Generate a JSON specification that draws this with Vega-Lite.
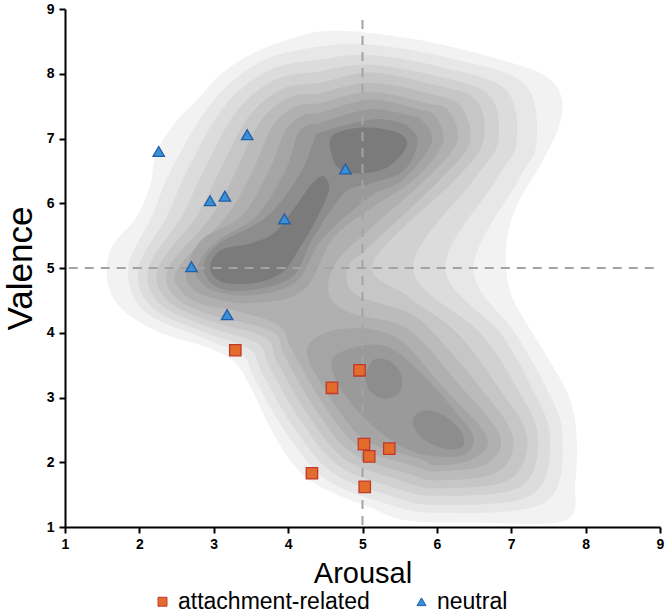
{
"$schema": "https://vega.github.io/schema/vega-lite/v6.json",
"width": 595, "height": 518,
"autosize": "none",
"padding": {"left": 65, "top": 9, "right": 9, "bottom": 89},
"background": "white",
"config": {"view": {"stroke": null}, "font": "Liberation Sans"},
"datasets": {
"contours": [
{"l":1,"p":"01","o":1,"x":4.5,"y":8.66},{"l":1,"p":"01","o":2,"x":5.1,"y":8.63},{"l":1,"p":"01","o":3,"x":5.95,"y":8.48},{"l":1,"p":"01","o":4,"x":6.85,"y":8.22},{"l":1,"p":"01","o":5,"x":7.45,"y":7.97},{"l":1,"p":"01","o":6,"x":7.68,"y":7.62},{"l":1,"p":"01","o":7,"x":7.63,"y":7.15},{"l":1,"p":"01","o":8,"x":7.38,"y":6.57},{"l":1,"p":"01","o":9,"x":7.05,"y":5.9},{"l":1,"p":"01","o":10,"x":6.93,"y":5.3},{"l":1,"p":"01","o":11,"x":6.97,"y":4.7},{"l":1,"p":"01","o":12,"x":7.15,"y":4.25},{"l":1,"p":"01","o":13,"x":7.5,"y":3.6},{"l":1,"p":"01","o":14,"x":7.78,"y":3.0},{"l":1,"p":"01","o":15,"x":7.88,"y":2.4},{"l":1,"p":"01","o":16,"x":7.86,"y":1.7},{"l":1,"p":"01","o":17,"x":7.72,"y":1.1},{"l":1,"p":"01","o":18,"x":6.5,"y":1.07},{"l":1,"p":"01","o":19,"x":5.6,"y":1.1},{"l":1,"p":"01","o":20,"x":5.1,"y":1.3},{"l":1,"p":"01","o":21,"x":4.4,"y":1.64},{"l":1,"p":"01","o":22,"x":4.05,"y":2.0},{"l":1,"p":"01","o":23,"x":3.75,"y":2.55},{"l":1,"p":"01","o":24,"x":3.5,"y":3.15},{"l":1,"p":"01","o":25,"x":3.28,"y":3.55},{"l":1,"p":"01","o":26,"x":2.9,"y":3.78},{"l":1,"p":"01","o":27,"x":2.4,"y":3.95},{"l":1,"p":"01","o":28,"x":1.95,"y":4.2},{"l":1,"p":"01","o":29,"x":1.64,"y":4.55},{"l":1,"p":"01","o":30,"x":1.56,"y":5.0},{"l":1,"p":"01","o":31,"x":1.66,"y":5.38},{"l":1,"p":"01","o":32,"x":1.97,"y":5.8},{"l":1,"p":"01","o":33,"x":2.15,"y":6.3},{"l":1,"p":"01","o":34,"x":2.22,"y":6.75},{"l":1,"p":"01","o":35,"x":2.45,"y":7.2},{"l":1,"p":"01","o":36,"x":2.8,"y":7.62},{"l":1,"p":"01","o":37,"x":3.1,"y":8.0},{"l":1,"p":"01","o":38,"x":3.55,"y":8.33},{"l":1,"p":"01","o":39,"x":4.05,"y":8.55},
{"l":2,"p":"02","o":1,"x":4.43,"y":8.42},{"l":2,"p":"02","o":2,"x":5.1,"y":8.45},{"l":2,"p":"02","o":3,"x":6.13,"y":8.25},{"l":2,"p":"02","o":4,"x":7.17,"y":7.85},{"l":2,"p":"02","o":5,"x":7.34,"y":6.94},{"l":2,"p":"02","o":6,"x":7.1,"y":6.37},{"l":2,"p":"02","o":7,"x":6.49,"y":5.0},{"l":2,"p":"02","o":8,"x":7.05,"y":4.0},{"l":2,"p":"02","o":9,"x":7.45,"y":3.2},{"l":2,"p":"02","o":10,"x":7.69,"y":2.4},{"l":2,"p":"02","o":11,"x":7.45,"y":1.38},{"l":2,"p":"02","o":12,"x":6.0,"y":1.22},{"l":2,"p":"02","o":13,"x":5.24,"y":1.39},{"l":2,"p":"02","o":14,"x":4.49,"y":1.75},{"l":2,"p":"02","o":15,"x":3.95,"y":2.49},{"l":2,"p":"02","o":16,"x":3.55,"y":3.29},{"l":2,"p":"02","o":17,"x":3.38,"y":3.66},{"l":2,"p":"02","o":18,"x":2.9,"y":3.9},{"l":2,"p":"02","o":19,"x":2.07,"y":4.33},{"l":2,"p":"02","o":20,"x":1.85,"y":5.0},{"l":2,"p":"02","o":21,"x":2.17,"y":5.8},{"l":2,"p":"02","o":22,"x":2.42,"y":6.5},{"l":2,"p":"02","o":23,"x":2.97,"y":7.55},{"l":2,"p":"02","o":24,"x":3.64,"y":8.19},
{"l":3,"p":"03","o":1,"x":4.43,"y":8.22},{"l":3,"p":"03","o":2,"x":5.1,"y":8.29},{"l":3,"p":"03","o":3,"x":6.07,"y":8.1},{"l":3,"p":"03","o":4,"x":6.93,"y":7.75},{"l":3,"p":"03","o":5,"x":7.07,"y":6.94},{"l":3,"p":"03","o":6,"x":6.8,"y":6.37},{"l":3,"p":"03","o":7,"x":6.11,"y":5.0},{"l":3,"p":"03","o":8,"x":6.85,"y":4.0},{"l":3,"p":"03","o":9,"x":7.25,"y":3.2},{"l":3,"p":"03","o":10,"x":7.52,"y":2.4},{"l":3,"p":"03","o":11,"x":7.28,"y":1.5},{"l":3,"p":"03","o":12,"x":6.0,"y":1.34},{"l":3,"p":"03","o":13,"x":5.33,"y":1.5},{"l":3,"p":"03","o":14,"x":4.58,"y":1.85},{"l":3,"p":"03","o":15,"x":4.05,"y":2.58},{"l":3,"p":"03","o":16,"x":3.65,"y":3.38},{"l":3,"p":"03","o":17,"x":3.48,"y":3.75},{"l":3,"p":"03","o":18,"x":2.9,"y":4.0},{"l":3,"p":"03","o":19,"x":2.17,"y":4.39},{"l":3,"p":"03","o":20,"x":1.99,"y":5.0},{"l":3,"p":"03","o":21,"x":2.37,"y":5.8},{"l":3,"p":"03","o":22,"x":2.64,"y":6.5},{"l":3,"p":"03","o":23,"x":3.13,"y":7.48},{"l":3,"p":"03","o":24,"x":3.74,"y":8.05},
{"l":4,"p":"04","o":1,"x":4.43,"y":8.04},{"l":4,"p":"04","o":2,"x":5.1,"y":8.14},{"l":4,"p":"04","o":3,"x":6.01,"y":7.96},{"l":4,"p":"04","o":4,"x":6.71,"y":7.66},{"l":4,"p":"04","o":5,"x":6.82,"y":6.94},{"l":4,"p":"04","o":6,"x":6.5,"y":6.37},{"l":4,"p":"04","o":7,"x":5.68,"y":5.0},{"l":4,"p":"04","o":8,"x":6.58,"y":4.0},{"l":4,"p":"04","o":9,"x":7.05,"y":3.2},{"l":4,"p":"04","o":10,"x":7.36,"y":2.4},{"l":4,"p":"04","o":11,"x":7.12,"y":1.62},{"l":4,"p":"04","o":12,"x":6.0,"y":1.48},{"l":4,"p":"04","o":13,"x":5.42,"y":1.61},{"l":4,"p":"04","o":14,"x":4.67,"y":1.95},{"l":4,"p":"04","o":15,"x":4.15,"y":2.67},{"l":4,"p":"04","o":16,"x":3.75,"y":3.47},{"l":4,"p":"04","o":17,"x":3.58,"y":3.84},{"l":4,"p":"04","o":18,"x":2.9,"y":4.1},{"l":4,"p":"04","o":19,"x":2.27,"y":4.45},{"l":4,"p":"04","o":20,"x":2.12,"y":5.0},{"l":4,"p":"04","o":21,"x":2.57,"y":5.8},{"l":4,"p":"04","o":22,"x":2.86,"y":6.5},{"l":4,"p":"04","o":23,"x":3.3,"y":7.41},{"l":4,"p":"04","o":24,"x":3.83,"y":7.91},
{"l":5,"p":"05","o":1,"x":4.43,"y":7.86},{"l":5,"p":"05","o":2,"x":5.1,"y":8.02},{"l":5,"p":"05","o":3,"x":5.96,"y":7.83},{"l":5,"p":"05","o":4,"x":6.53,"y":7.59},{"l":5,"p":"05","o":5,"x":6.62,"y":6.94},{"l":5,"p":"05","o":6,"x":6.25,"y":6.37},{"l":5,"p":"05","o":7,"x":5.15,"y":5.1},{"l":5,"p":"05","o":8,"x":5.6,"y":4.57},{"l":5,"p":"05","o":9,"x":6.27,"y":4.0},{"l":5,"p":"05","o":10,"x":6.8,"y":3.2},{"l":5,"p":"05","o":11,"x":7.21,"y":2.4},{"l":5,"p":"05","o":12,"x":6.97,"y":1.73},{"l":5,"p":"05","o":13,"x":6.0,"y":1.6},{"l":5,"p":"05","o":14,"x":5.51,"y":1.72},{"l":5,"p":"05","o":15,"x":4.76,"y":2.05},{"l":5,"p":"05","o":16,"x":4.25,"y":2.76},{"l":5,"p":"05","o":17,"x":3.85,"y":3.56},{"l":5,"p":"05","o":18,"x":3.68,"y":3.93},{"l":5,"p":"05","o":19,"x":2.9,"y":4.2},{"l":5,"p":"05","o":20,"x":2.37,"y":4.51},{"l":5,"p":"05","o":21,"x":2.25,"y":5.0},{"l":5,"p":"05","o":22,"x":2.77,"y":5.8},{"l":5,"p":"05","o":23,"x":3.08,"y":6.5},{"l":5,"p":"05","o":24,"x":3.47,"y":7.34},{"l":5,"p":"05","o":25,"x":3.93,"y":7.77},
{"l":6,"p":"06","o":1,"x":4.43,"y":7.7},{"l":6,"p":"06","o":2,"x":5.1,"y":7.86},{"l":6,"p":"06","o":3,"x":5.91,"y":7.69},{"l":6,"p":"06","o":4,"x":6.32,"y":7.5},{"l":6,"p":"06","o":5,"x":6.44,"y":6.94},{"l":6,"p":"06","o":6,"x":6.05,"y":6.37},{"l":6,"p":"06","o":7,"x":5.1,"y":5.34},{"l":6,"p":"06","o":8,"x":4.8,"y":5.0},{"l":6,"p":"06","o":9,"x":4.9,"y":4.6},{"l":6,"p":"06","o":10,"x":5.6,"y":4.32},{"l":6,"p":"06","o":11,"x":5.95,"y":4.0},{"l":6,"p":"06","o":12,"x":6.55,"y":3.2},{"l":6,"p":"06","o":13,"x":7.02,"y":2.4},{"l":6,"p":"06","o":14,"x":6.8,"y":1.84},{"l":6,"p":"06","o":15,"x":6.0,"y":1.72},{"l":6,"p":"06","o":16,"x":5.6,"y":1.83},{"l":6,"p":"06","o":17,"x":4.85,"y":2.15},{"l":6,"p":"06","o":18,"x":4.35,"y":2.85},{"l":6,"p":"06","o":19,"x":3.95,"y":3.65},{"l":6,"p":"06","o":20,"x":3.78,"y":4.02},{"l":6,"p":"06","o":21,"x":2.9,"y":4.3},{"l":6,"p":"06","o":22,"x":2.47,"y":4.57},{"l":6,"p":"06","o":23,"x":2.39,"y":5.0},{"l":6,"p":"06","o":24,"x":2.97,"y":5.8},{"l":6,"p":"06","o":25,"x":3.3,"y":6.5},{"l":6,"p":"06","o":26,"x":3.63,"y":7.27},{"l":6,"p":"06","o":27,"x":4.02,"y":7.64},
{"l":7,"p":"07","o":1,"x":4.43,"y":7.55},{"l":7,"p":"07","o":2,"x":5.1,"y":7.72},{"l":7,"p":"07","o":3,"x":5.85,"y":7.55},{"l":7,"p":"07","o":4,"x":6.16,"y":7.43},{"l":7,"p":"07","o":5,"x":6.27,"y":6.94},{"l":7,"p":"07","o":6,"x":5.85,"y":6.37},{"l":7,"p":"07","o":7,"x":5.1,"y":5.6},{"l":7,"p":"07","o":8,"x":4.65,"y":5.1},{"l":7,"p":"07","o":9,"x":4.55,"y":4.6},{"l":7,"p":"07","o":10,"x":4.85,"y":4.3},{"l":7,"p":"07","o":11,"x":5.6,"y":4.06},{"l":7,"p":"07","o":12,"x":6.3,"y":3.2},{"l":7,"p":"07","o":13,"x":6.85,"y":2.4},{"l":7,"p":"07","o":14,"x":6.64,"y":1.96},{"l":7,"p":"07","o":15,"x":6.0,"y":1.86},{"l":7,"p":"07","o":16,"x":5.69,"y":1.94},{"l":7,"p":"07","o":17,"x":4.94,"y":2.25},{"l":7,"p":"07","o":18,"x":4.45,"y":2.94},{"l":7,"p":"07","o":19,"x":4.05,"y":3.74},{"l":7,"p":"07","o":20,"x":3.88,"y":4.11},{"l":7,"p":"07","o":21,"x":3.3,"y":4.34},{"l":7,"p":"07","o":22,"x":2.9,"y":4.42},{"l":7,"p":"07","o":23,"x":2.57,"y":4.63},{"l":7,"p":"07","o":24,"x":2.52,"y":5.0},{"l":7,"p":"07","o":25,"x":3.17,"y":5.8},{"l":7,"p":"07","o":26,"x":3.52,"y":6.5},{"l":7,"p":"07","o":27,"x":3.8,"y":7.21},{"l":7,"p":"07","o":28,"x":4.11,"y":7.5},
{"l":8,"p":"08u","o":1,"x":4.43,"y":7.4},{"l":8,"p":"08u","o":2,"x":5.1,"y":7.6},{"l":8,"p":"08u","o":3,"x":5.75,"y":7.45},{"l":8,"p":"08u","o":4,"x":5.97,"y":7.35},{"l":8,"p":"08u","o":5,"x":6.08,"y":6.94},{"l":8,"p":"08u","o":6,"x":5.7,"y":6.37},{"l":8,"p":"08u","o":7,"x":5.1,"y":5.91},{"l":8,"p":"08u","o":8,"x":4.6,"y":5.45},{"l":8,"p":"08u","o":9,"x":4.2,"y":4.65},{"l":8,"p":"08u","o":10,"x":3.5,"y":4.46},{"l":8,"p":"08u","o":11,"x":2.95,"y":4.55},{"l":8,"p":"08u","o":12,"x":2.68,"y":4.72},{"l":8,"p":"08u","o":13,"x":2.64,"y":5.0},{"l":8,"p":"08u","o":14,"x":2.85,"y":5.45},{"l":8,"p":"08u","o":15,"x":3.37,"y":5.8},{"l":8,"p":"08u","o":16,"x":3.74,"y":6.5},{"l":8,"p":"08u","o":17,"x":3.97,"y":7.14},{"l":8,"p":"08u","o":18,"x":4.21,"y":7.36},
{"l":8,"p":"08l","o":1,"x":4.5,"y":4.0},{"l":8,"p":"08l","o":2,"x":4.95,"y":4.07},{"l":8,"p":"08l","o":3,"x":5.3,"y":4.0},{"l":8,"p":"08l","o":4,"x":5.6,"y":3.8},{"l":8,"p":"08l","o":5,"x":6.05,"y":3.2},{"l":8,"p":"08l","o":6,"x":6.67,"y":2.4},{"l":8,"p":"08l","o":7,"x":6.48,"y":2.05},{"l":8,"p":"08l","o":8,"x":6.0,"y":1.95},{"l":8,"p":"08l","o":9,"x":5.78,"y":2.05},{"l":8,"p":"08l","o":10,"x":5.03,"y":2.35},{"l":8,"p":"08l","o":11,"x":4.55,"y":3.03},{"l":8,"p":"08l","o":12,"x":4.25,"y":3.7},
{"l":9,"p":"09u","o":1,"x":4.43,"y":7.24},{"l":9,"p":"09u","o":2,"x":5.1,"y":7.45},{"l":9,"p":"09u","o":3,"x":5.65,"y":7.35},{"l":9,"p":"09u","o":4,"x":5.8,"y":7.28},{"l":9,"p":"09u","o":5,"x":5.93,"y":6.94},{"l":9,"p":"09u","o":6,"x":5.55,"y":6.37},{"l":9,"p":"09u","o":7,"x":5.1,"y":6.1},{"l":9,"p":"09u","o":8,"x":4.46,"y":5.45},{"l":9,"p":"09u","o":9,"x":4.1,"y":4.78},{"l":9,"p":"09u","o":10,"x":3.5,"y":4.58},{"l":9,"p":"09u","o":11,"x":3.0,"y":4.65},{"l":9,"p":"09u","o":12,"x":2.8,"y":4.82},{"l":9,"p":"09u","o":13,"x":2.77,"y":5.0},{"l":9,"p":"09u","o":14,"x":3.0,"y":5.38},{"l":9,"p":"09u","o":15,"x":3.57,"y":5.8},{"l":9,"p":"09u","o":16,"x":3.96,"y":6.5},{"l":9,"p":"09u","o":17,"x":4.13,"y":7.07},{"l":9,"p":"09u","o":18,"x":4.3,"y":7.22},
{"l":9,"p":"09l","o":1,"x":5.0,"y":3.8},{"l":9,"p":"09l","o":2,"x":5.4,"y":3.75},{"l":9,"p":"09l","o":3,"x":5.85,"y":3.3},{"l":9,"p":"09l","o":4,"x":6.2,"y":2.85},{"l":9,"p":"09l","o":5,"x":6.49,"y":2.4},{"l":9,"p":"09l","o":6,"x":6.38,"y":2.12},{"l":9,"p":"09l","o":7,"x":6.0,"y":2.09},{"l":9,"p":"09l","o":8,"x":5.6,"y":2.2},{"l":9,"p":"09l","o":9,"x":5.1,"y":2.6},{"l":9,"p":"09l","o":10,"x":4.7,"y":3.15},{"l":9,"p":"09l","o":11,"x":4.6,"y":3.6},
{"l":10,"p":"10u","o":1,"x":4.43,"y":7.09},{"l":10,"p":"10u","o":2,"x":5.1,"y":7.29},{"l":10,"p":"10u","o":3,"x":5.45,"y":7.26},{"l":10,"p":"10u","o":4,"x":5.62,"y":7.18},{"l":10,"p":"10u","o":5,"x":5.74,"y":6.94},{"l":10,"p":"10u","o":6,"x":5.55,"y":6.5},{"l":10,"p":"10u","o":7,"x":5.1,"y":6.3},{"l":10,"p":"10u","o":8,"x":4.75,"y":6.15},{"l":10,"p":"10u","o":9,"x":4.33,"y":5.45},{"l":10,"p":"10u","o":10,"x":4.05,"y":4.86},{"l":10,"p":"10u","o":11,"x":3.5,"y":4.66},{"l":10,"p":"10u","o":12,"x":3.05,"y":4.7},{"l":10,"p":"10u","o":13,"x":2.86,"y":5.0},{"l":10,"p":"10u","o":14,"x":3.05,"y":5.36},{"l":10,"p":"10u","o":15,"x":3.72,"y":5.8},{"l":10,"p":"10u","o":16,"x":4.18,"y":6.5},{"l":10,"p":"10u","o":17,"x":4.35,"y":6.98},
{"l":10,"p":"10v","o":1,"x":5.05,"y":3.35},{"l":10,"p":"10v","o":2,"x":5.15,"y":3.58},{"l":10,"p":"10v","o":3,"x":5.35,"y":3.57},{"l":10,"p":"10v","o":4,"x":5.52,"y":3.35},{"l":10,"p":"10v","o":5,"x":5.5,"y":3.08},{"l":10,"p":"10v","o":6,"x":5.3,"y":2.98},{"l":10,"p":"10v","o":7,"x":5.1,"y":3.1},
{"l":10,"p":"10w","o":1,"x":5.68,"y":2.68},{"l":10,"p":"10w","o":2,"x":5.85,"y":2.8},{"l":10,"p":"10w","o":3,"x":6.1,"y":2.72},{"l":10,"p":"10w","o":4,"x":6.33,"y":2.47},{"l":10,"p":"10w","o":5,"x":6.35,"y":2.25},{"l":10,"p":"10w","o":6,"x":6.15,"y":2.2},{"l":10,"p":"10w","o":7,"x":5.9,"y":2.3},{"l":10,"p":"10w","o":8,"x":5.72,"y":2.48},
{"l":11,"p":"11a","o":1,"x":4.56,"y":6.94},{"l":11,"p":"11a","o":2,"x":4.68,"y":7.1},{"l":11,"p":"11a","o":3,"x":5.05,"y":7.17},{"l":11,"p":"11a","o":4,"x":5.45,"y":7.1},{"l":11,"p":"11a","o":5,"x":5.6,"y":6.94},{"l":11,"p":"11a","o":6,"x":5.5,"y":6.72},{"l":11,"p":"11a","o":7,"x":5.27,"y":6.52},{"l":11,"p":"11a","o":8,"x":4.9,"y":6.46},{"l":11,"p":"11a","o":9,"x":4.65,"y":6.58},
{"l":11,"p":"11b","o":1,"x":2.95,"y":5.0},{"l":11,"p":"11b","o":2,"x":3.1,"y":5.28},{"l":11,"p":"11b","o":3,"x":3.5,"y":5.38},{"l":11,"p":"11b","o":4,"x":3.82,"y":5.55},{"l":11,"p":"11b","o":5,"x":4.08,"y":5.92},{"l":11,"p":"11b","o":6,"x":4.32,"y":6.3},{"l":11,"p":"11b","o":7,"x":4.47,"y":6.42},{"l":11,"p":"11b","o":8,"x":4.55,"y":6.22},{"l":11,"p":"11b","o":9,"x":4.4,"y":5.8},{"l":11,"p":"11b","o":10,"x":4.15,"y":5.3},{"l":11,"p":"11b","o":11,"x":3.92,"y":4.93},{"l":11,"p":"11b","o":12,"x":3.55,"y":4.77},{"l":11,"p":"11b","o":13,"x":3.12,"y":4.78}
],
"refs": [
{"x":5,"y":8.83,"x2":5,"y2":1},
{"x":1.05,"y":5,"x2":9,"y2":5}
],
"pts": [
{"cat":"attachment-related","Arousal":3.29,"Valence":3.73},
{"cat":"attachment-related","Arousal":4.59,"Valence":3.15},
{"cat":"attachment-related","Arousal":4.32,"Valence":1.83},
{"cat":"attachment-related","Arousal":4.96,"Valence":3.42},
{"cat":"attachment-related","Arousal":5.02,"Valence":2.28},
{"cat":"attachment-related","Arousal":5.36,"Valence":2.21},
{"cat":"attachment-related","Arousal":5.09,"Valence":2.09},
{"cat":"attachment-related","Arousal":5.03,"Valence":1.62},
{"cat":"neutral","Arousal":2.26,"Valence":6.8},
{"cat":"neutral","Arousal":3.45,"Valence":7.06},
{"cat":"neutral","Arousal":4.77,"Valence":6.53},
{"cat":"neutral","Arousal":2.95,"Valence":6.04},
{"cat":"neutral","Arousal":3.15,"Valence":6.11},
{"cat":"neutral","Arousal":3.95,"Valence":5.76},
{"cat":"neutral","Arousal":2.7,"Valence":5.02},
{"cat":"neutral","Arousal":3.18,"Valence":4.28}
]
},
"layer": [
{
"data": {"name": "contours"},
"mark": {"type": "line", "interpolate": "cardinal-closed", "strokeWidth": 0, "strokeOpacity": 0, "clip": true},
"encoding": {
"x": {"field": "x", "type": "quantitative", "scale": {"domain": [1, 9], "nice": false, "zero": false},
"axis": {"values": [1,2,3,4,5,6,7,8,9], "format": "d", "title": "Arousal", "titleFontSize": 29, "titleFontWeight": "normal", "titleColor": "black", "titleFont": "Liberation Sans", "titlePadding": 8, "labelFont": "Liberation Sans", "labelFontWeight": "bold", "labelFontSize": 14, "labelColor": "black", "labelPadding": 4, "domainColor": "black", "domainWidth": 2, "tickColor": "black", "tickWidth": 2, "tickSize": 6, "grid": false, "labelFlush": false}},
"y": {"field": "y", "type": "quantitative", "scale": {"domain": [1, 9], "nice": false, "zero": false},
"axis": {"values": [1,2,3,4,5,6,7,8,9], "format": "d", "title": "Valence", "titleFontSize": 35, "titleFontWeight": "normal", "titleColor": "black", "titleFont": "Liberation Sans", "titlePadding": 8, "labelFont": "Liberation Sans", "labelFontWeight": "bold", "labelFontSize": 14, "labelColor": "black", "labelPadding": 5, "domainColor": "black", "domainWidth": 2, "tickColor": "black", "tickWidth": 2, "tickSize": 6, "grid": false, "labelFlush": false}},
"detail": {"field": "p", "type": "nominal"},
"order": {"field": "o", "type": "quantitative"},
"fill": {"field": "l", "type": "ordinal", "scale": {"domain": [1,2,3,4,5,6,7,8,9,10,11], "range": ["#f2f2f2","#e7e7e7","#dcdcdc","#d1d1d1","#c6c6c6","#bbbbbb","#b0b0b0","#a5a5a5","#9a9a9a","#8d8d8d","#7b7b7b"]}, "legend": null}
}
},
{
"data": {"name": "refs"},
"mark": {"type": "rule", "color": "#a3a3a3", "strokeWidth": 2, "strokeDash": [9, 7]},
"encoding": {
"x": {"field": "x", "type": "quantitative"},
"y": {"field": "y", "type": "quantitative"},
"x2": {"field": "x2"},
"y2": {"field": "y2"}
}
},
{
"data": {"name": "pts"},
"mark": {"type": "point", "filled": true, "size": 130, "strokeWidth": 1.3, "opacity": 1},
"encoding": {
"x": {"field": "Arousal", "type": "quantitative"},
"y": {"field": "Valence", "type": "quantitative"},
"shape": {"field": "cat", "type": "nominal", "scale": {"domain": ["attachment-related", "neutral"], "range": ["square", "triangle-up"]}, "legend": {"orient": "none", "legendX": 86, "legendY": 581, "direction": "horizontal", "title": null, "labelFontSize": 23, "labelFont": "Liberation Sans", "labelColor": "black", "labelLimit": 0, "symbolSize": 80, "columnPadding": 40, "symbolStrokeWidth": 1}},
"color": {"field": "cat", "type": "nominal", "scale": {"domain": ["attachment-related", "neutral"], "range": ["#e36b2c", "#3b8fd6"]}, "legend": {"orient": "none", "legendX": 86, "legendY": 581, "direction": "horizontal", "title": null, "labelFontSize": 23, "labelFont": "Liberation Sans", "labelColor": "black", "labelLimit": 0, "symbolSize": 80, "columnPadding": 40, "symbolStrokeWidth": 1}},
"stroke": {"field": "cat", "type": "nominal", "scale": {"domain": ["attachment-related", "neutral"], "range": ["#c0392b", "#1f5fa6"]}, "legend": {"orient": "none", "legendX": 86, "legendY": 581, "direction": "horizontal", "title": null, "labelFontSize": 23, "labelFont": "Liberation Sans", "labelColor": "black", "labelLimit": 0, "symbolSize": 80, "columnPadding": 40, "symbolStrokeWidth": 1}}
}
}
]
}
